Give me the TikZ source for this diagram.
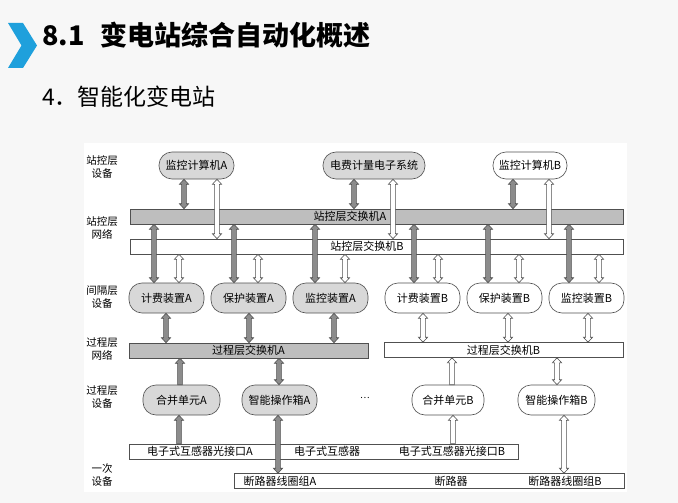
\documentclass[tikz,border=0pt]{standalone}
\usepackage{fontspec}
\setmainfont{Noto Sans CJK SC}
\usetikzlibrary{calc}
\definecolor{nodegray}{HTML}{D8D8D8}
\definecolor{bargray}{HTML}{BEBEBE}
\definecolor{arrgray}{HTML}{8C8C8C}
\definecolor{edgec}{HTML}{505050}
\definecolor{chev}{HTML}{1FA0DC}
\definecolor{slidebg}{HTML}{F7F7F7}
\tikzset{
  tbox/.style={draw=edgec, line width=0.6pt, rounded corners=13pt, inner sep=0pt, font=\fontsize{11}{13}\selectfont},
  gnode/.style={tbox, fill=nodegray},
  wnode/.style={tbox, fill=white},
  barbox/.style={draw=edgec, line width=0.6pt, inner sep=0pt, minimum height=15pt},
  gbar/.style={barbox, fill=bargray},
  wbar/.style={barbox, fill=white},
  bartext/.style={inner sep=0pt, font=\fontsize{11}{13}\selectfont},
  lbl/.style={align=center, inner sep=0pt, font=\fontsize{10.5}{13}\selectfont},
  garr/.style={draw=edgec, line width=0.6pt, fill=arrgray},
  warr/.style={draw=edgec, line width=0.6pt, fill=white}
}
% double-headed vertical block arrow between two points
\newcommand\dblarrow[3]{%
  \draw[#1] let \p1=#2, \p2=#3, \n1={sign(\y2-\y1)} in
    (\x1,\y1) -- ({\x1+4.6pt},{\y1+(\n1)*5pt}) -- ({\x1+2.4pt},{\y1+(\n1)*5pt})
    -- ({\x1+2.4pt},{\y2-(\n1)*5pt}) -- ({\x1+4.6pt},{\y2-(\n1)*5pt}) -- (\x1,\y2)
    -- ({\x1-4.6pt},{\y2-(\n1)*5pt}) -- ({\x1-2.4pt},{\y2-(\n1)*5pt})
    -- ({\x1-2.4pt},{\y1+(\n1)*5pt}) -- ({\x1-4.6pt},{\y1+(\n1)*5pt}) -- cycle;}
% single-headed vertical block arrow, head at the second point
\newcommand\onearrow[3]{%
  \draw[#1] let \p1=#2, \p2=#3, \n1={sign(\y2-\y1)} in
    ({\x1-2.4pt},\y1) -- ({\x1+2.4pt},\y1)
    -- ({\x1+2.4pt},{\y2-(\n1)*5pt}) -- ({\x1+4.6pt},{\y2-(\n1)*5pt}) -- (\x1,\y2)
    -- ({\x1-4.6pt},{\y2-(\n1)*5pt}) -- ({\x1-2.4pt},{\y2-(\n1)*5pt}) -- cycle;}
\begin{document}
\begin{tikzpicture}[x=1pt, y=-1pt]
\useasboundingbox (0,0) rectangle (678,503);
\fill[slidebg] (0,0) rectangle (678,503);
\fill[white] (84,143) rectangle (627,492);
% title
\fill[chev] (8,23) -- (23,23) -- (37,45.5) -- (23,68) -- (8,68) -- (21.5,45.5) -- cycle;
\node[anchor=base west, inner sep=0pt, font=\fontsize{27}{30}\selectfont\bfseries] (title) at (42,46) {8.1\hspace{16pt}变电站综合自动化概述};
\node[anchor=base west, inner sep=0pt, font=\fontsize{23}{26}\selectfont] (sub) at (42,106) {4．智能化变电站};
% left labels
\node[lbl] (L1) at (102,167) {站控层\\设备};
\node[lbl] (L2) at (102,228) {站控层\\网络};
\node[lbl] (L3) at (102,297) {间隔层\\设备};
\node[lbl] (L4) at (102,349) {过程层\\网络};
\node[lbl] (L5) at (102,397) {过程层\\设备};
\node[lbl] (L6) at (102,475) {一次\\设备};
% top nodes
\node[gnode, minimum width=75pt, minimum height=27pt] (mA) at (196.5,165.5) {监控计算机A};
\node[gnode, minimum width=102pt, minimum height=27pt] (ef) at (374,165.5) {电费计量电子系统};
\node[wnode, minimum width=74pt, minimum height=27pt] (mB) at (530,165.5) {监控计算机B};
% station bars
\node[gbar, minimum width=493pt] (swA) at (376.5,216.5) {};
\node[bartext] (swAt) at (350,216.5) {站控层交换机A};
\node[wbar, minimum width=493pt] (swB) at (376.5,246.5) {};
\node[bartext] (swBt) at (367,246.5) {站控层交换机B};
% bay nodes
\node[gnode, minimum width=75pt, minimum height=30pt] (jA) at (166.5,298) {计费装置A};
\node[gnode, minimum width=75pt, minimum height=30pt] (bA) at (248.5,298) {保护装置A};
\node[gnode, minimum width=75pt, minimum height=30pt] (kA) at (330.5,298) {监控装置A};
\node[wnode, minimum width=75pt, minimum height=30pt] (jB) at (422.5,298) {计费装置B};
\node[wnode, minimum width=75pt, minimum height=30pt] (bB) at (504.5,298) {保护装置B};
\node[wnode, minimum width=75pt, minimum height=30pt] (kB) at (586.5,298) {监控装置B};
% process bars
\node[gbar, minimum width=239pt] (pA) at (248.5,350.5) {};
\node[bartext] (pAt) at (248.5,350.5) {过程层交换机A};
\node[wbar, minimum width=239pt] (pB) at (503.5,350) {};
\node[bartext] (pBt) at (503.5,350) {过程层交换机B};
% process nodes
\node[gnode, minimum width=77pt, minimum height=30pt] (hA) at (181.5,400) {合并单元A};
\node[gnode, minimum width=75pt, minimum height=30pt] (zA) at (279.5,400) {智能操作箱A};
\node[inner sep=0pt, font=\fontsize{9}{10}\selectfont] (dots) at (365,398) {…};
\node[wnode, minimum width=72pt, minimum height=30pt] (hB) at (448,400) {合并单元B};
\node[wnode, minimum width=77pt, minimum height=30pt] (zB) at (556.5,400) {智能操作箱B};
% primary bars
\node[wbar, minimum width=389pt] (b1) at (323.5,451.5) {};
\node[bartext] (b1a) at (200,451.5) {电子式互感器光接口A};
\node[bartext] (b1b) at (327,451.5) {电子式互感器};
\node[bartext] (b1c) at (452,451.5) {电子式互感器光接口B};
\node[wbar, minimum width=390pt] (b2) at (429,481) {};
\node[bartext] (b2a) at (280,481) {断路器线圈组A};
\node[bartext] (b2b) at (451,481) {断路器};
\node[bartext] (b2c) at (565,481) {断路器线圈组B};
% columns
\foreach \n/\x in {t1/184,t2/217,t3/354,t4/393,t5/513,t6/549,
  m1/154,m2/179,m3/234,m4/258,m5/315,m6/345,m7/414,m8/438,m9/488,m10/519,m11/569,m12/599,
  n1/166,n2/249,n3/334,n4/423,n5/508,n6/588,
  q1/180,q2/279,q3/452,q4/557,
  r1/179,r2/278,r3/453,r4/564}
  \coordinate (\n) at (\x,0);
% top arrows
\dblarrow{garr}{(mA.south -| t1)}{(swA.north -| t1)}
\dblarrow{garr}{(ef.south -| t3)}{(swA.north -| t3)}
\dblarrow{garr}{(mB.south -| t5)}{(swA.north -| t5)}
\dblarrow{warr}{(mA.south -| t2)}{(swB.north -| t2)}
\dblarrow{warr}{(ef.south -| t4)}{(swB.north -| t4)}
\dblarrow{warr}{(mB.south -| t6)}{(swB.north -| t6)}
% station bars to bay nodes
\dblarrow{garr}{(swA.south -| m1)}{(jA.north -| m1)}
\dblarrow{warr}{(swB.south -| m2)}{(jA.north -| m2)}
\dblarrow{garr}{(swA.south -| m3)}{(bA.north -| m3)}
\dblarrow{warr}{(swB.south -| m4)}{(bA.north -| m4)}
\dblarrow{garr}{(swA.south -| m5)}{(kA.north -| m5)}
\dblarrow{warr}{(swB.south -| m6)}{(kA.north -| m6)}
\dblarrow{garr}{(swA.south -| m7)}{(jB.north -| m7)}
\dblarrow{warr}{(swB.south -| m8)}{(jB.north -| m8)}
\dblarrow{garr}{(swA.south -| m9)}{(bB.north -| m9)}
\dblarrow{warr}{(swB.south -| m10)}{(bB.north -| m10)}
\dblarrow{garr}{(swA.south -| m11)}{(kB.north -| m11)}
\dblarrow{warr}{(swB.south -| m12)}{(kB.north -| m12)}
% bay nodes to process bars
\dblarrow{garr}{(jA.south -| n1)}{(pA.north -| n1)}
\dblarrow{garr}{(bA.south -| n2)}{(pA.north -| n2)}
\dblarrow{garr}{(kA.south -| n3)}{(pA.north -| n3)}
\dblarrow{warr}{(jB.south -| n4)}{(pB.north -| n4)}
\dblarrow{warr}{(bB.south -| n5)}{(pB.north -| n5)}
\dblarrow{warr}{(kB.south -| n6)}{(pB.north -| n6)}
% process bars to process nodes
\onearrow{garr}{(hA.north -| q1)}{(pA.south -| q1)}
\dblarrow{garr}{(zA.north -| q2)}{(pA.south -| q2)}
\onearrow{warr}{(hB.north -| q3)}{(pB.south -| q3)}
\dblarrow{warr}{(zB.north -| q4)}{(pB.south -| q4)}
% primary equipment
\onearrow{garr}{(b1.north -| r1)}{(hA.south -| r1)}
\dblarrow{garr}{(zA.south -| r2)}{(b2.north -| r2)}
\onearrow{warr}{(b1.north -| r3)}{(hB.south -| r3)}
\dblarrow{warr}{(zB.south -| r4)}{(b2.north -| r4)}
\end{tikzpicture}
\end{document}
